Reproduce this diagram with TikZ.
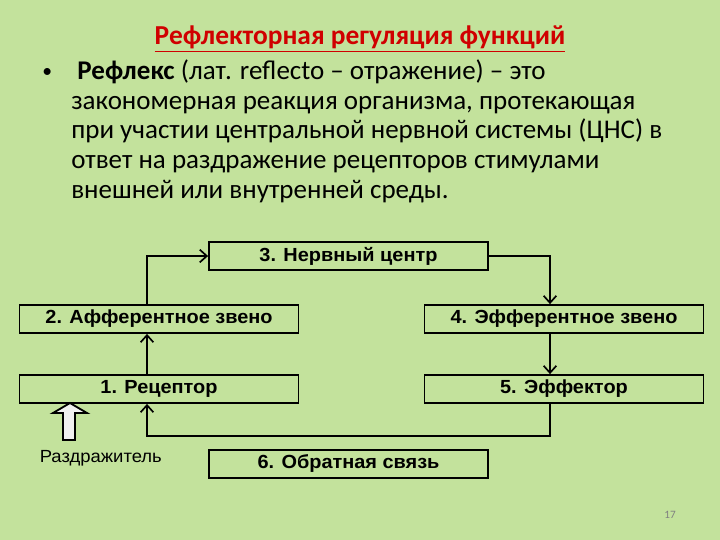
\documentclass[tikz,border=0pt]{standalone}
\usepackage{fontspec}
\setmainfont{Carlito}
\newfontfamily\boxfont[FakeStretch=1.05]{Liberation Sans}
\usepackage{xcolor}
\usepackage{tikz}
\usetikzlibrary{arrows, arrows.meta, positioning, calc}
\definecolor{slidebg}{HTML}{C3E29C}
\definecolor{titlered}{HTML}{D00000}

\begin{document}
\begin{tikzpicture}[
    >={Straight Barb[length=5pt, width=9pt]},
    link/.style={rectangle, draw=black, line width=1.3pt, minimum width=6.975cm, minimum height=0.7cm, inner sep=0pt, align=center, font=\boxfont\fontsize{13.5}{15}\selectfont\bfseries},
    wire/.style={line width=1.2pt, draw=black},
]

\fill[slidebg] (0,0) rectangle (18,-13.5);
\useasboundingbox (0,0) rectangle (18,-13.5);

\node[font=\fontsize{19.5}{22}\selectfont\bfseries, text=titlered] (title) at (9,-0.97) {\underline{Рефлекторная регуляция функций}};
\node[font=\fontsize{14}{16}\selectfont] (bullet) at (1.18,-1.82) {•};
\node[anchor=north west, text width=16.2cm, align=flush left, inner sep=0pt, font=\fontsize{19.2}{21.2}\selectfont] (definition) at (1.775,-1.48) {\hspace{0.15cm}\textbf{Рефлекс} (лат. reflecto -- отражение) -- это\\
закономерная реакция организма, протекающая\\
при участии центральной нервной системы (ЦНС) в\\
ответ на раздражение рецепторов стимулами\\
внешней или внутренней среды.};

\node[link] (center) at (8.7125,-6.4) {3. Нервный центр};
\node[link] (afferent) at (3.975,-7.975) {2. Афферентное звено};
\node[link] (efferent) at (14.1,-7.975) {4. Эфферентное звено};
\node[link] (receptor) at (3.975,-9.725) {1. Рецептор};
\node[link] (effector) at (14.1,-9.725) {5. Эффектор};
\node[link] (feedback) at (8.7125,-11.6) {6. Обратная связь};

\coordinate (lft) at (3.675,0);
\coordinate (rgt) at (13.75,0);
\coordinate (loop) at (0,-10.9);

\draw[wire, ->] (afferent.north -| lft) |- (center.west);
\draw[wire, ->] (center.east) -| (efferent.north -| rgt);
\draw[wire, ->] (receptor.north -| lft) -- (afferent.south -| lft);
\draw[wire, ->] (efferent.south -| rgt) -- (effector.north -| rgt);
\draw[wire, ->] (effector.south -| rgt) -- (loop -| rgt) -| (receptor.south -| lft);

\node[font=\boxfont\fontsize{12.5}{14}\selectfont] (stimulus) at (2.52,-11.45) {Раздражитель};
\draw[line width=1.3pt, fill=gray!12] (1.575,-11.0) -- (1.575,-10.325) -- (1.325,-10.325) -- (1.75,-10.075) -- (2.175,-10.325) -- (1.875,-10.325) -- (1.875,-11.0) -- cycle;

\node[font=\fontsize{8}{9}\selectfont, text=gray] (page) at (16.75,-12.875) {17};

\end{tikzpicture}
\end{document}
